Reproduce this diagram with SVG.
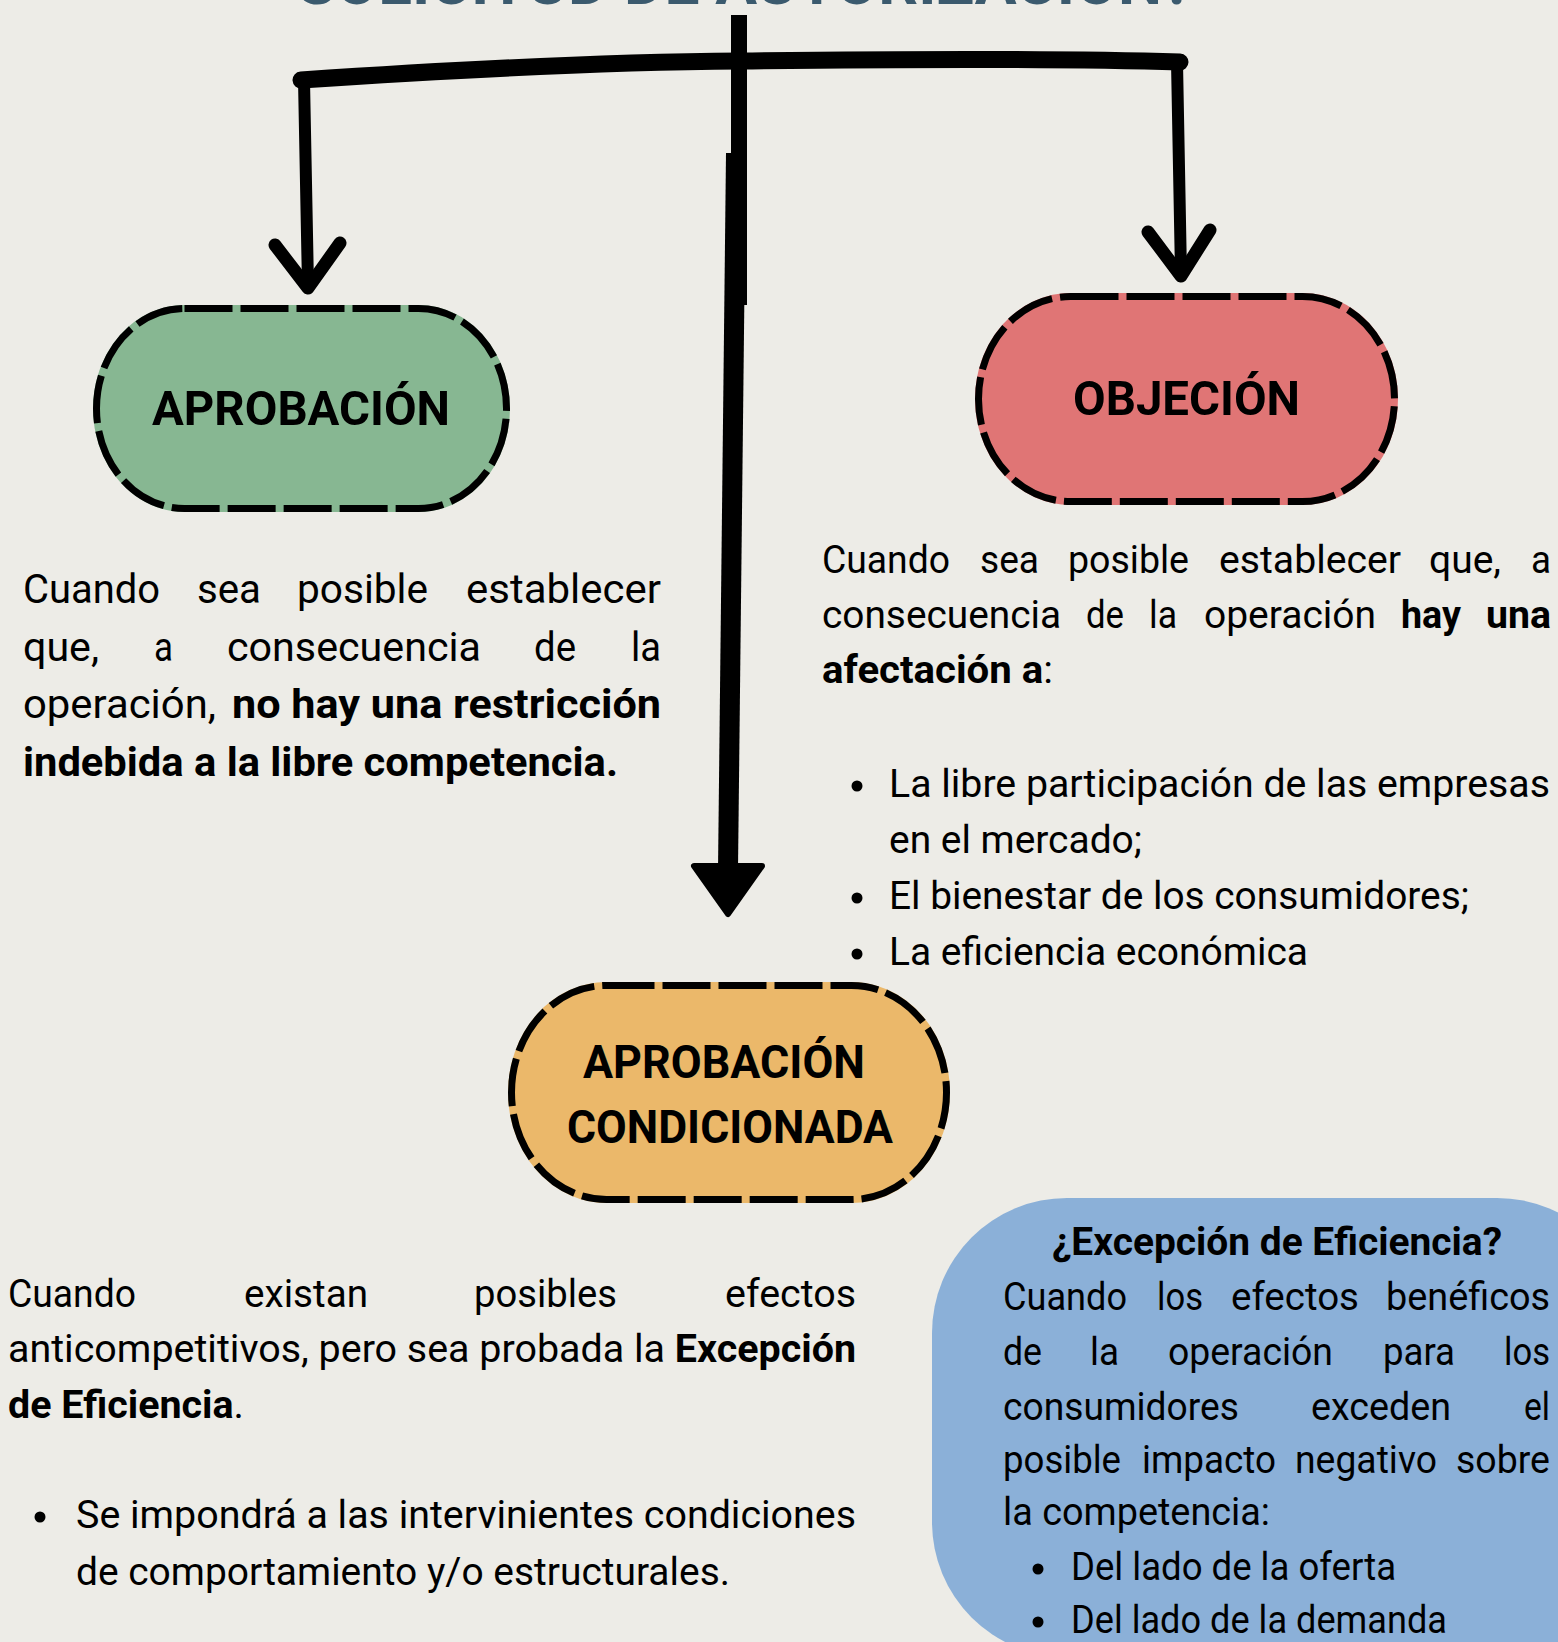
<svg xmlns="http://www.w3.org/2000/svg" width="1558" height="1642" viewBox="0 0 1558 1642">
<defs>
<style>
.t{font-family:Roboto,"Liberation Sans",sans-serif;fill:#000}
.b{font-weight:700}
.s41{font-size:41px}
.s39{font-size:39px}
.s38{font-size:38px}
.h{font-family:Roboto,"Liberation Sans",sans-serif;font-weight:700;fill:#000}
.ln{fill:none;stroke:#000;stroke-linecap:round;stroke-linejoin:round}
.dash{fill:none;stroke:#000;stroke-width:7;stroke-dasharray:48 8}
</style>
</defs>
<rect x="0" y="0" width="1558" height="1642" fill="#EDECE7"/>

<text class="h" x="297" y="4" font-size="62" style="fill:#3B5A6E" textLength="896" lengthAdjust="spacingAndGlyphs">SOLICITUD DE AUTORIZACIÓN?</text>

<g id="connectors">
<path class="ln" d="M301,80 C450,70 600,62 740,61 C900,59 1050,58 1180,62" stroke-width="17"/>
<path class="ln" d="M304,80 L308,286" stroke-width="12"/>
<path class="ln" d="M275,245 L308,288 L340,243" stroke-width="13"/>
<path class="ln" d="M1177,62 L1181,274" stroke-width="12"/>
<path class="ln" d="M1148,232 L1181,276 L1210,230" stroke-width="13"/>
<path d="M739,15 L739,305" stroke="#000" stroke-width="16" fill="none"/>
<path d="M736,153 L728,870" stroke="#000" stroke-width="20" fill="none"/>
<polygon points="694,866 762,866 728,914" fill="#000" stroke="#000" stroke-width="6" stroke-linejoin="round"/>
</g>

<g id="node-aprobacion">
<rect x="96.5" y="308.5" width="410" height="200" rx="88" ry="100" fill="#87B792" stroke="#87B792" stroke-width="7"/>
<rect class="dash" x="96.5" y="308.5" width="410" height="200" rx="88" ry="100"/>
<text class="h" x="152" y="425" font-size="49" textLength="298" lengthAdjust="spacingAndGlyphs">APROBACIÓN</text>
</g>

<g id="node-objecion">
<rect x="978.5" y="296.5" width="416" height="205" rx="92" ry="102.5" fill="#E07575" stroke="#E07575" stroke-width="7"/>
<rect class="dash" x="978.5" y="296.5" width="416" height="205" rx="92" ry="102.5"/>
<text class="h" x="1073" y="415" font-size="49" textLength="227" lengthAdjust="spacingAndGlyphs">OBJECIÓN</text>
</g>

<g id="node-condicionada">
<rect x="511.5" y="985.5" width="435" height="214" rx="95" ry="107" fill="#EBB86A" stroke="#EBB86A" stroke-width="7"/>
<rect class="dash" x="511.5" y="985.5" width="435" height="214" rx="95" ry="107"/>
<text class="h" x="583" y="1078" font-size="46" textLength="282" lengthAdjust="spacingAndGlyphs">APROBACIÓN</text>
<text class="h" x="567" y="1143" font-size="46" textLength="326" lengthAdjust="spacingAndGlyphs">CONDICIONADA</text>
</g>

<g id="text-aprobacion" class="t s41">
<text x="23" y="603" textLength="137" lengthAdjust="spacingAndGlyphs">Cuando</text>
<text x="197" y="603" textLength="64" lengthAdjust="spacingAndGlyphs">sea</text>
<text x="297" y="603" textLength="131" lengthAdjust="spacingAndGlyphs">posible</text>
<text x="466" y="603" textLength="195" lengthAdjust="spacingAndGlyphs">establecer</text>
<text x="23" y="661" textLength="76" lengthAdjust="spacingAndGlyphs">que,</text>
<text x="154" y="661" textLength="19" lengthAdjust="spacingAndGlyphs">a</text>
<text x="227" y="661" textLength="254" lengthAdjust="spacingAndGlyphs">consecuencia</text>
<text x="534" y="661" textLength="42" lengthAdjust="spacingAndGlyphs">de</text>
<text x="631" y="661" textLength="30" lengthAdjust="spacingAndGlyphs">la</text>
<text x="23" y="718" textLength="193" lengthAdjust="spacingAndGlyphs">operación,</text>
<text class="b" x="232" y="718" textLength="429" lengthAdjust="spacingAndGlyphs">no hay una restricción</text>
<text class="b" x="23" y="776" textLength="595" lengthAdjust="spacingAndGlyphs">indebida a la libre competencia.</text>
</g>

<g id="text-objecion" class="t s39">
<text x="822" y="573" textLength="128" lengthAdjust="spacingAndGlyphs">Cuando</text>
<text x="980" y="573" textLength="59" lengthAdjust="spacingAndGlyphs">sea</text>
<text x="1068" y="573" textLength="121" lengthAdjust="spacingAndGlyphs">posible</text>
<text x="1219" y="573" textLength="182" lengthAdjust="spacingAndGlyphs">establecer</text>
<text x="1429" y="573" textLength="72" lengthAdjust="spacingAndGlyphs">que,</text>
<text x="1531" y="573" textLength="20" lengthAdjust="spacingAndGlyphs">a</text>
<text x="822" y="628" textLength="239" lengthAdjust="spacingAndGlyphs">consecuencia</text>
<text x="1086" y="628" textLength="38" lengthAdjust="spacingAndGlyphs">de</text>
<text x="1149" y="628" textLength="28" lengthAdjust="spacingAndGlyphs">la</text>
<text x="1204" y="628" textLength="172" lengthAdjust="spacingAndGlyphs">operación</text>
<text class="b" x="1401" y="628" textLength="60" lengthAdjust="spacingAndGlyphs">hay</text>
<text class="b" x="1486" y="628" textLength="65" lengthAdjust="spacingAndGlyphs">una</text>
<text x="822" y="683" textLength="231" lengthAdjust="spacingAndGlyphs"><tspan class="b">afectación a</tspan>:</text>
<circle cx="857" cy="786" r="5.5"/>
<text x="889" y="797" textLength="661" lengthAdjust="spacingAndGlyphs">La libre participación de las empresas</text>
<text x="889" y="853" textLength="253" lengthAdjust="spacingAndGlyphs">en el mercado;</text>
<circle cx="857" cy="898" r="5.5"/>
<text x="889" y="909" textLength="580" lengthAdjust="spacingAndGlyphs">El bienestar de los consumidores;</text>
<circle cx="857" cy="954" r="5.5"/>
<text x="889" y="965" textLength="419" lengthAdjust="spacingAndGlyphs">La eficiencia económica</text>
</g>

<g id="text-condicionada" class="t s39">
<text x="8" y="1307" textLength="128" lengthAdjust="spacingAndGlyphs">Cuando</text>
<text x="244" y="1307" textLength="124" lengthAdjust="spacingAndGlyphs">existan</text>
<text x="474" y="1307" textLength="143" lengthAdjust="spacingAndGlyphs">posibles</text>
<text x="725" y="1307" textLength="131" lengthAdjust="spacingAndGlyphs">efectos</text>
<text x="8" y="1362" textLength="848" lengthAdjust="spacingAndGlyphs">anticompetitivos, pero sea probada la <tspan class="b">Excepción</tspan></text>
<text x="8" y="1418" textLength="236" lengthAdjust="spacingAndGlyphs"><tspan class="b">de Eficiencia</tspan>.</text>
<circle cx="40" cy="1517" r="5.5"/>
<text x="76" y="1528" textLength="780" lengthAdjust="spacingAndGlyphs">Se impondrá a las intervinientes condiciones</text>
<text x="76" y="1585" textLength="654" lengthAdjust="spacingAndGlyphs">de comportamiento y/o estructurales.</text>
</g>

<g id="node-excepcion">
<rect x="932" y="1198" width="700" height="459" rx="135" ry="135" fill="#8BB0D8"/>
<g class="t s38">
<text class="b" x="1052" y="1255" textLength="450" lengthAdjust="spacingAndGlyphs">¿Excepción de Eficiencia?</text>
<text x="1003" y="1310" textLength="124" lengthAdjust="spacingAndGlyphs">Cuando</text>
<text x="1157" y="1310" textLength="46" lengthAdjust="spacingAndGlyphs">los</text>
<text x="1231" y="1310" textLength="128" lengthAdjust="spacingAndGlyphs">efectos</text>
<text x="1386" y="1310" textLength="164" lengthAdjust="spacingAndGlyphs">benéficos</text>
<text x="1003" y="1365" textLength="39" lengthAdjust="spacingAndGlyphs">de</text>
<text x="1090" y="1365" textLength="29" lengthAdjust="spacingAndGlyphs">la</text>
<text x="1168" y="1365" textLength="165" lengthAdjust="spacingAndGlyphs">operación</text>
<text x="1383" y="1365" textLength="72" lengthAdjust="spacingAndGlyphs">para</text>
<text x="1504" y="1365" textLength="46" lengthAdjust="spacingAndGlyphs">los</text>
<text x="1003" y="1420" textLength="236" lengthAdjust="spacingAndGlyphs">consumidores</text>
<text x="1311" y="1420" textLength="140" lengthAdjust="spacingAndGlyphs">exceden</text>
<text x="1524" y="1420" textLength="26" lengthAdjust="spacingAndGlyphs">el</text>
<text x="1003" y="1473" textLength="118" lengthAdjust="spacingAndGlyphs">posible</text>
<text x="1142" y="1473" textLength="134" lengthAdjust="spacingAndGlyphs">impacto</text>
<text x="1295" y="1473" textLength="142" lengthAdjust="spacingAndGlyphs">negativo</text>
<text x="1456" y="1473" textLength="94" lengthAdjust="spacingAndGlyphs">sobre</text>
<text x="1003" y="1525" textLength="267" lengthAdjust="spacingAndGlyphs">la competencia:</text>
<circle cx="1038" cy="1569" r="5.5"/>
<text x="1071" y="1580" textLength="325" lengthAdjust="spacingAndGlyphs">Del lado de la oferta</text>
<circle cx="1038" cy="1622" r="5.5"/>
<text x="1071" y="1633" textLength="376" lengthAdjust="spacingAndGlyphs">Del lado de la demanda</text>
</g>
</g>
</svg>
